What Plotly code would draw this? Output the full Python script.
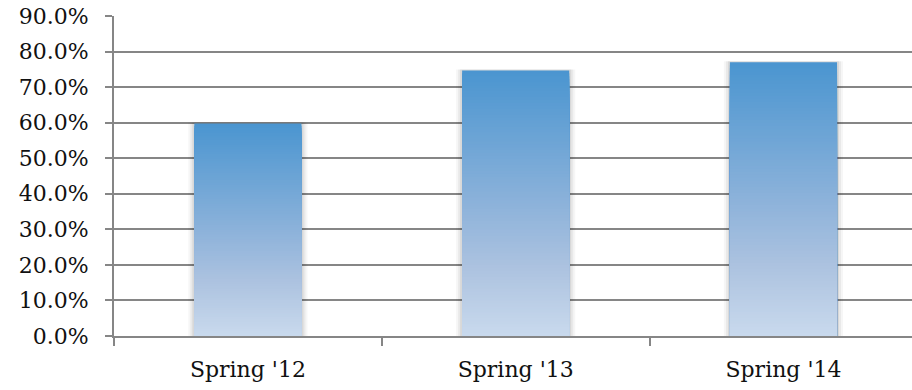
import plotly.graph_objects as go

# Chart data
categories = ["Spring '12", "Spring '13", "Spring '14"]
values = [59.8, 74.7, 77.0]
y_ticks = [0, 10, 20, 30, 40, 50, 60, 70, 80, 90]
y_tick_labels = ["0.0%", "10.0%", "20.0%", "30.0%", "40.0%",
                 "50.0%", "60.0%", "70.0%", "80.0%", "90.0%"]

GRID = "#868686"
FONT = dict(family="DejaVu Serif", size=22, color="#111111")
BAR_W = 0.4

# vertical gradient stops (fraction of bar height from bottom -> rgb)
stops = [(0.0, (201, 217, 237)), (0.25, (173, 195, 224)),
         (0.5, (140, 178, 218)), (1.0, (74, 149, 208))]


def grad(t):
    for (t0, c0), (t1, c1) in zip(stops[:-1], stops[1:]):
        if t <= t1:
            f = (t - t0) / (t1 - t0)
            return "rgb(%d,%d,%d)" % tuple(round(a + (b - a) * f) for a, b in zip(c0, c1))
    return "rgb(%d,%d,%d)" % stops[-1][1]


fig = go.Figure()

# soft drop shadow behind each bar
for extra, alpha in [(0.045, 0.035), (0.03, 0.05), (0.015, 0.07)]:
    fig.add_trace(go.Bar(
        x=categories, y=[v + 0.25 for v in values], width=BAR_W + extra,
        marker=dict(color="rgba(0,0,0,%.3f)" % alpha, line=dict(width=0)),
        hoverinfo="skip", showlegend=False))

# gradient fill: tallest layer first, shorter layers painted over it
N = 90
for k in range(N, 0, -1):
    frac = k / N
    fig.add_trace(go.Bar(
        x=categories, y=[v * frac for v in values], width=BAR_W,
        marker=dict(color=grad((k - 0.5) / N), line=dict(width=0)),
        hoverinfo="skip" if k < N else "x+y", showlegend=False))

fig.update_layout(
    width=912, height=390,
    margin=dict(l=114, r=0, t=16, b=54),
    paper_bgcolor="white", plot_bgcolor="white",
    barmode="overlay", bargap=0.6,
    font=FONT, showlegend=False,
)

fig.update_xaxes(
    type="category", range=[-0.5, 2.48],
    showline=True, linecolor=GRID, linewidth=2,
    ticks="outside", tickson="boundaries", ticklen=8, tickwidth=2, tickcolor=GRID,
    showgrid=False, tickfont=FONT, ticklabelstandoff=13,
)
fig.update_yaxes(
    range=[0, 90], tickvals=y_ticks, ticktext=y_tick_labels,
    showline=True, linecolor=GRID, linewidth=2,
    showgrid=True, gridcolor=GRID, gridwidth=2,
    ticks="outside", ticklen=7, tickwidth=2, tickcolor=GRID,
    zeroline=False, tickfont=FONT, ticklabelstandoff=12,
)

fig.write_html("out.html")
